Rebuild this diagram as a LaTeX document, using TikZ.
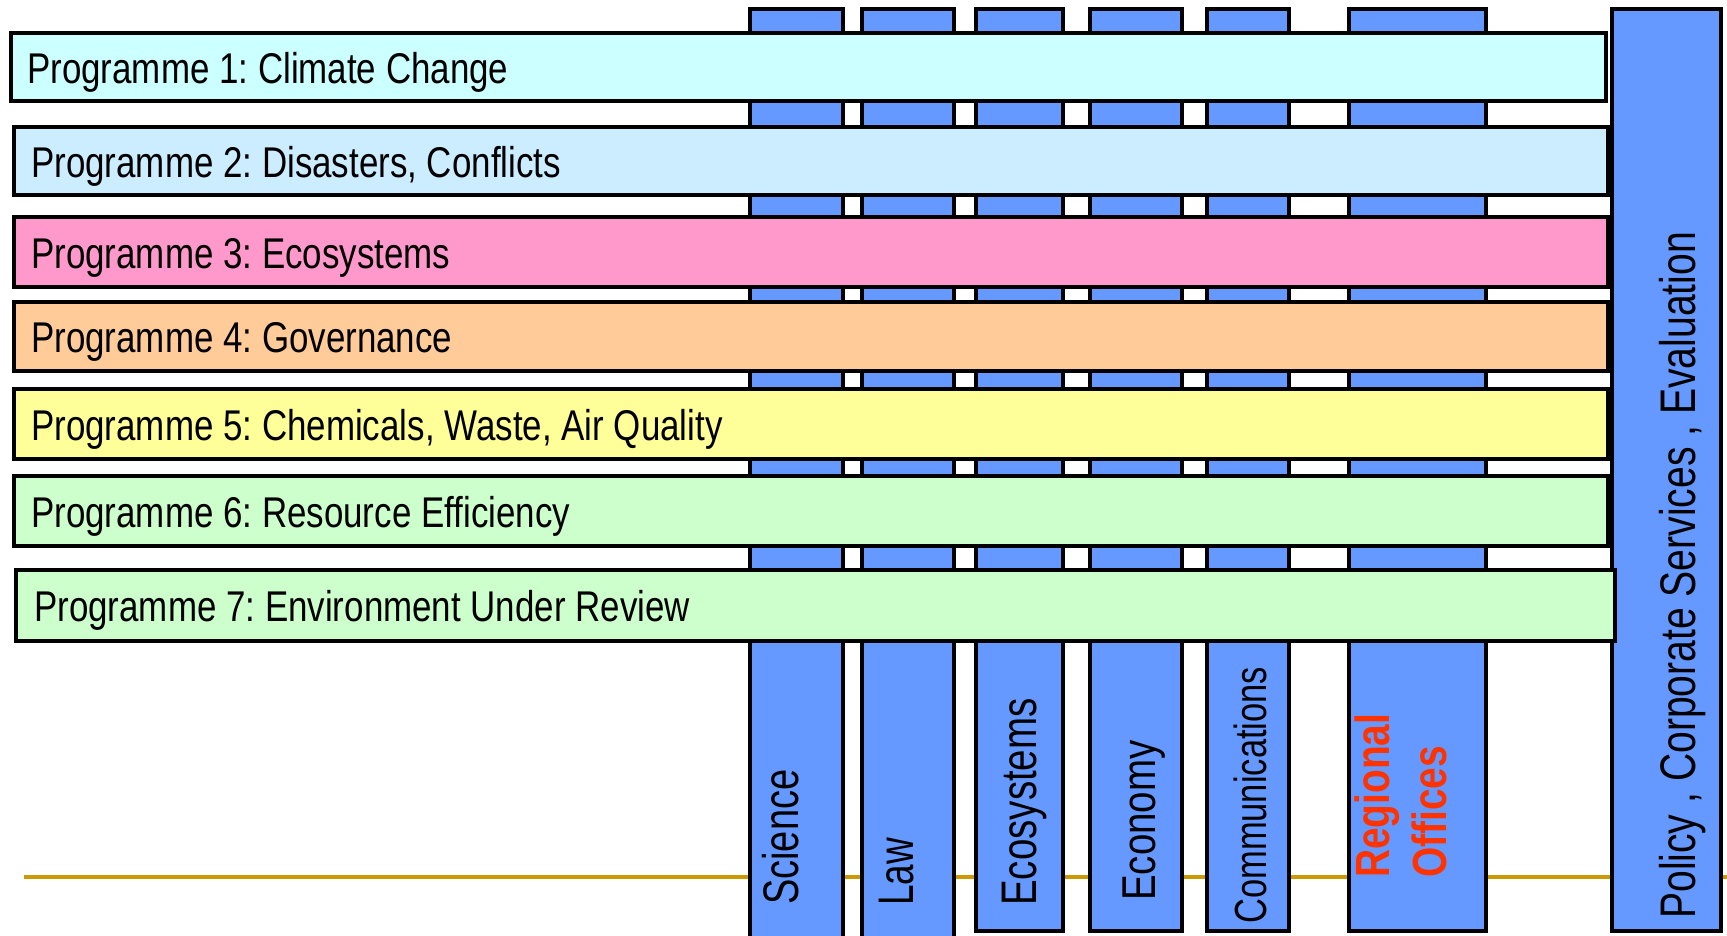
\documentclass[tikz,border=0pt]{standalone}
\usepackage{fontspec}
\setmainfont{Liberation Sans}
\usepackage{graphicx}
\usetikzlibrary{fit}
\frenchspacing
\definecolor{colblue}{HTML}{6699FF}
\definecolor{cpa}{HTML}{CCFFFF}
\definecolor{cpb}{HTML}{CCECFF}
\definecolor{cpc}{HTML}{FF99CC}
\definecolor{cpd}{HTML}{FFCC99}
\definecolor{cpe}{HTML}{FFFF99}
\definecolor{cpf}{HTML}{CCFFCC}
\definecolor{cpg}{HTML}{CCFFCC}
\definecolor{regred}{HTML}{FF3300}
\definecolor{goldline}{HTML}{CC9900}
\begin{document}
\begin{tikzpicture}[x=1pt,y=-1pt,
  colbox/.style={draw=black, line width=3.8pt, fill=colblue, inner sep=0pt, rectangle},
  barbox/.style={draw=black, line width=3.8pt, inner sep=0pt, rectangle},
  htext/.style={anchor=base west, inner sep=0pt, font=\fontsize{43}{50}\selectfont},
  vtext/.style={anchor=base west, inner sep=0pt, rotate=90},
  rtext/.style={anchor=base west, inner sep=0pt, rotate=90, text=regred, font=\bfseries\fontsize{48}{57}\selectfont}
]
\useasboundingbox (0,0) rectangle (1727,935);
\clip (0,0) rectangle (1727,935);
\fill[white] (0,0) rectangle (1727,935);

% gold rule
\coordinate (gl) at (24,877);
\coordinate (gr) at (1727,877);
\draw[goldline, line width=4pt] (gl) -- (gr);

% columns
\node[colbox, fit={(749.75,8.75) (843.25,942)}] (sci) {};
\node[colbox, fit={(861.75,8.75) (954.25,942)}] (law) {};
\node[colbox, fit={(975.75,8.75) (1063.25,931.25)}] (eco) {};
\node[colbox, fit={(1089.75,8.75) (1182.25,931.25)}] (econ) {};
\node[colbox, fit={(1206.75,8.75) (1289.25,931.25)}] (comm) {};
\node[colbox, fit={(1348.75,8.75) (1486.25,931.25)}] (reg) {};
\node[colbox, fit={(1611.75,8.75) (1721.25,931.25)}] (pol) {};

% programme bars
\node[barbox, fill=cpa, fit={(10.75,32.75) (1606.25,101.25)}] (p1) {};
\node[barbox, fill=cpb, fit={(13.75,126.75) (1608.25,195.25)}] (p2) {};
\node[barbox, fill=cpc, fit={(13.75,216.75) (1608.25,287.25)}] (p3) {};
\node[barbox, fill=cpd, fit={(13.75,301.75) (1608.25,371.25)}] (p4) {};
\node[barbox, fill=cpe, fit={(13.75,388.75) (1608.25,459.25)}] (p5) {};
\node[barbox, fill=cpf, fit={(13.75,475.75) (1608.25,546.25)}] (p6) {};
\node[barbox, fill=cpg, fit={(15.75,569.75) (1615.25,641.25)}] (p7) {};

% programme labels
\node[htext] (t1) at (27,83) {\scalebox{0.812}[1]{Programme 1: Climate Change}};
\node[htext] (t2) at (31,177) {\scalebox{0.812}[1]{Programme 2: Disasters, Conflicts}};
\node[htext] (t3) at (31,268) {\scalebox{0.812}[1]{Programme 3: Ecosystems}};
\node[htext] (t4) at (31,352.5) {\scalebox{0.812}[1]{Programme 4: Governance}};
\node[htext] (t5) at (31,440) {\scalebox{0.812}[1]{Programme 5: Chemicals, Waste, Air Quality}};
\node[htext] (t6) at (31,527) {\scalebox{0.812}[1]{Programme 6: Resource Efficiency}};
\node[htext] (t7) at (34,621.5) {\scalebox{0.812}[1]{Programme 7: Environment Under Review}};

% column labels
\node[vtext, font=\fontsize{50}{60}\selectfont] (lsci) at (798,905) {\scalebox{0.76}[1]{Science}};
\node[vtext, font=\fontsize{50}{60}\selectfont] (llaw) at (913,906) {\scalebox{0.74}[1]{Law}};
\node[vtext, font=\fontsize{50}{60}\selectfont] (leco) at (1036,906) {\scalebox{0.77}[1]{Ecosystems}};
\node[vtext, font=\fontsize{47.5}{57}\selectfont] (lecon) at (1155,901) {\scalebox{0.81}[1]{Economy}};
\node[vtext, font=\fontsize{45}{54}\selectfont] (lcomm) at (1266,924) {\scalebox{0.767}[1]{Communications}};
\node[rtext] (lreg1) at (1389,878) {\scalebox{0.81}[1]{Regional}};
\node[rtext] (lreg2) at (1446,878) {\scalebox{0.81}[1]{Offices}};
\node[vtext, font=\fontsize{50}{60}\selectfont] (lpol) at (1695,919) {\scalebox{0.782}[1]{Policy , Corporate Services , Evaluation}};
\end{tikzpicture}
\end{document}
